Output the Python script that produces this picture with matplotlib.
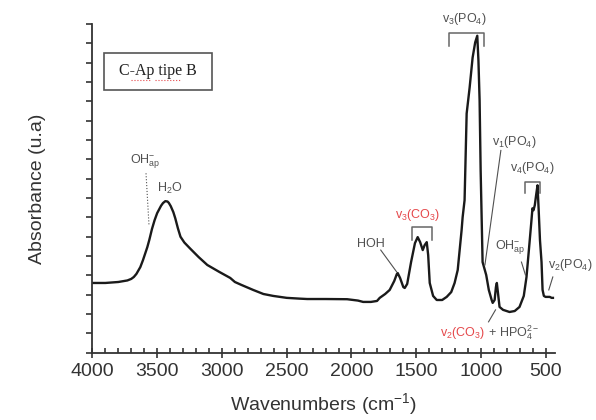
import matplotlib
matplotlib.use("Agg")
import matplotlib.pyplot as plt
from matplotlib.patches import Rectangle
from matplotlib.ticker import MultipleLocator, NullFormatter

plt.rcParams["font.family"] = ["Liberation Sans", "DejaVu Sans"]
plt.rcParams["mathtext.fontset"] = "custom"
plt.rcParams["mathtext.rm"] = "Liberation Sans"
plt.rcParams["mathtext.it"] = "Liberation Sans:italic"

# FTIR spectrum (wavenumber cm-1, absorbance a.u.)
wavenumber = [
    4000, 3900, 3800, 3730, 3700, 3680, 3660, 3630, 3610, 3576, 3560, 3540,
    3520, 3500, 3470, 3455, 3437, 3420, 3410, 3395, 3375, 3360, 3340, 3320,
    3290, 3244, 3180, 3113, 3020, 2936, 2900, 2850, 2759, 2680, 2604, 2500,
    2400, 2342, 2200, 2034, 1950, 1910, 1850, 1803, 1782, 1740, 1705, 1670,
    1650, 1643, 1625, 1600, 1589, 1570, 1540, 1510, 1489, 1470, 1450, 1435,
    1419, 1408, 1396, 1370, 1342, 1300, 1265, 1230, 1204, 1180, 1165, 1150,
    1142, 1127, 1111, 1088, 1065, 1045, 1029, 1020, 1011, 1003, 988, 975,
    960, 940, 918, 910, 895, 885, 878, 870, 857, 830, 780, 740, 703, 670,
    649, 626, 612, 603, 595, 585, 575, 564, 555, 545, 533, 525, 515, 502,
    470, 455, 445,
]
absorbance = [
    0.361, 0.361, 0.366, 0.374, 0.382, 0.392, 0.408, 0.443, 0.478, 0.546, 0.585, 0.640,
    0.685, 0.722, 0.760, 0.774, 0.784, 0.782, 0.775, 0.758, 0.727, 0.695, 0.644, 0.600,
    0.570, 0.538, 0.495, 0.454, 0.418, 0.387, 0.366, 0.351, 0.325, 0.304, 0.294, 0.284,
    0.280, 0.278, 0.278, 0.277, 0.270, 0.263, 0.263, 0.268, 0.284, 0.304, 0.325, 0.371,
    0.407, 0.412, 0.387, 0.340, 0.335, 0.356, 0.469, 0.567, 0.598, 0.572, 0.531, 0.557,
    0.572, 0.505, 0.361, 0.294, 0.273, 0.273, 0.289, 0.314, 0.361, 0.428, 0.531, 0.634,
    0.701, 0.789, 1.237, 1.371, 1.526, 1.605, 1.639, 1.510, 1.304, 0.943, 0.469, 0.438,
    0.402, 0.325, 0.273, 0.258, 0.273, 0.340, 0.361, 0.314, 0.237, 0.222, 0.211, 0.216,
    0.237, 0.294, 0.392, 0.567, 0.675, 0.747, 0.737, 0.763, 0.814, 0.866, 0.737, 0.582,
    0.469, 0.325, 0.294, 0.289, 0.289, 0.284, 0.284,
]

GREY = "#505050"
RED = "#e5484b"

fig = plt.figure(figsize=(5.96, 4.2), dpi=100)
ax = fig.add_axes([0.155, 0.160, 0.776, 0.783])

ax.plot(wavenumber, absorbance, color="#1a1a1a", lw=1.7, solid_joinstyle="round")

ax.set_xlim(4000, 430)
ax.set_ylim(0, 1.7)
ax.spines["top"].set_visible(False)
ax.spines["right"].set_visible(False)
for s in ("left", "bottom"):
    ax.spines[s].set_color("#333333")
    ax.spines[s].set_linewidth(1.3)

ax.xaxis.set_major_locator(MultipleLocator(500))
ax.xaxis.set_minor_locator(MultipleLocator(100))
ax.yaxis.set_major_locator(MultipleLocator(0.1))
ax.yaxis.set_major_formatter(NullFormatter())
ax.tick_params(axis="x", which="major", direction="inout", length=7, width=1.2,
               labelsize=14, labelcolor="#333333", color="#333333", pad=4)
ax.tick_params(axis="x", which="minor", direction="in", length=3.5, width=1.2,
               color="#333333")
ax.tick_params(axis="y", which="major", direction="out", length=4, width=1.2,
               color="#333333")

ax.set_xlabel("Wavenumbers (cm$^{-1}$)", fontsize=14, color="#333333", labelpad=8)
ax.set_ylabel("Absorbance (u.a)", fontsize=14, color="#333333", labelpad=26)

# sample box
ax.add_patch(Rectangle((3910, 1.361), 3077 - 3910, 1.552 - 1.361, fill=False,
                       ec="#555555", lw=1.2))
ax.text(3492, 1.459, "C-Ap tipe B", family="Liberation Serif", fontsize=11.5,
        ha="center", va="center", color="#222222")
ax.plot([3701, 3555], [1.410, 1.410], color=RED, lw=0.8, ls=":")
ax.plot([3517, 3316], [1.410, 1.410], color=RED, lw=0.8, ls=":")

fs = 9
# OH- / H2O region
ax.text(3709, 0.985, r"OH$^{-}_{\mathrm{ap}}$", fontsize=fs, color=GREY, va="center")
ax.plot([3586, 3563], [0.928, 0.660], color=GREY, lw=0.8, ls=":")
ax.text(3400, 0.851, r"H$_2$O", fontsize=fs, color=GREY, ha="center", va="center")

# HOH
ax.text(1851, 0.562, "HOH", fontsize=fs, color=GREY, ha="center", va="center")
ax.plot([1774, 1651], [0.531, 0.418], color=GREY, lw=0.8)


def bracket(x0, x1, top, bottom, color="#666666"):
    ax.plot([x0, x0, x1, x1], [bottom, top, top, bottom], color=color, lw=1.1)


# v3 CO3
ax.text(1489, 0.711, r"v$_3$(CO$_3$)", fontsize=fs, color=RED, ha="center", va="center")
bracket(1535, 1381, 0.649, 0.582)

# v3 PO4
ax.text(1127, 1.727, r"v$_3$(PO$_4$)", fontsize=fs, color=GREY, ha="center", va="center")
bracket(1250, 980, 1.655, 1.588)

# v1 PO4
ax.text(747, 1.088, r"v$_1$(PO$_4$)", fontsize=fs, color=GREY, ha="center", va="center")
ax.plot([847, 970], [1.046, 0.454], color=GREY, lw=0.8)

# v4 PO4
ax.text(601, 0.954, r"v$_4$(PO$_4$)", fontsize=fs, color=GREY, ha="center", va="center")
bracket(664, 548, 0.881, 0.825)

# OH- ap (right)
ax.text(896, 0.541, r"OH$^{-}_{\mathrm{ap}}$", fontsize=fs, color=GREY, va="center")
ax.plot([688, 657], [0.469, 0.402], color=GREY, lw=0.8)

# v2 PO4
ax.text(485, 0.454, r"v$_2$(PO$_4$)", fontsize=fs, color=GREY, va="center", clip_on=False)
ax.plot([446, 477], [0.392, 0.325], color=GREY, lw=0.8)

# v2 CO3 + HPO4
t = ax.text(1320, 0.103, r"v$_2$(CO$_3$)", fontsize=fs, color=RED, va="center")
ax.annotate(r" + HPO$_4^{2-}$", xy=(1, 0.5), xycoords=t, fontsize=fs, color=GREY,
            va="center", ha="left")
ax.plot([888, 942], [0.222, 0.160], color=GREY, lw=0.8)

fig.savefig("out.png", dpi=100)
